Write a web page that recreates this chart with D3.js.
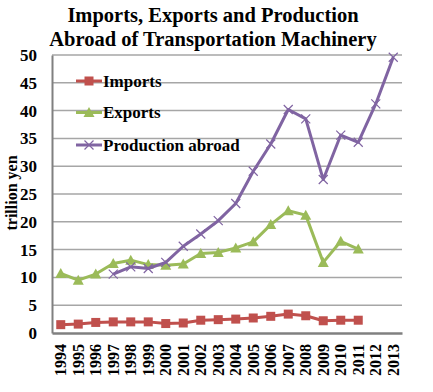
<!DOCTYPE html>
<html><head><meta charset="utf-8">
<script src="https://cdn.jsdelivr.net/npm/d3@7"></script>
<style>body{margin:0;background:#fff} text{font-family:"Liberation Serif","Times New Roman",serif;font-weight:bold;fill:#000}</style>
</head><body>
<svg id="c" width="433" height="392"></svg>
<script>
const years = ["1994","1995","1996","1997","1998","1999","2000","2001","2002","2003","2004","2005","2006","2007","2008","2009","2010","2011","2012","2013"];
const imports = [1.5,1.6,1.9,2.0,2.0,2.0,1.7,1.8,2.3,2.4,2.5,2.7,3.0,3.4,3.1,2.2,2.3,2.3,null,null];
const exportsV = [10.7,9.5,10.6,12.5,13.1,12.3,12.2,12.4,14.3,14.5,15.3,16.4,19.5,22.0,21.2,12.7,16.5,15.1,null,null];
const production = [null,null,null,10.6,11.9,11.6,12.7,15.6,17.8,20.2,23.3,29.1,34.0,40.2,38.5,27.6,35.6,34.3,41.2,49.6];
const yTicks = [0,5,10,15,20,25,30,35,40,45,50];
const seriesNames = ["Imports","Exports","Production abroad"];
const colors = ["#C0504D","#9BBB59","#8064A2"];

const svg = d3.select("#c");
const FF = "Liberation Serif";
const L=52,R=402,T=55,B=333;
const x = d3.scaleBand().domain(years).range([L,R]);
const y = d3.scaleLinear().domain([0,50]).range([B,T]);

// grid
svg.append("g").selectAll("line").data(yTicks.filter(d=>d>0)).join("line")
  .attr("x1",L).attr("x2",R).attr("y1",d=>y(d)).attr("y2",d=>y(d))
  .attr("stroke","#A6A6A6").attr("stroke-width",1.5);

// axes
const ya = svg.append("g").attr("transform",`translate(${L},0)`)
  .call(d3.axisLeft(y).tickValues(yTicks).tickSize(0).tickPadding(15));
ya.attr("font-family",null);
ya.select(".domain").attr("stroke","#808080").attr("stroke-width",2);
ya.selectAll("text").style("font-family",FF).style("font-weight","bold").style("font-size","17px").attr("fill","#000");

const xa = svg.append("g").attr("transform",`translate(0,${B})`)
  .call(d3.axisBottom(x).tickSize(0).tickPadding(0));
xa.attr("font-family",null);
xa.select(".domain").attr("stroke","#808080").attr("stroke-width",2.5);
xa.selectAll("text").style("font-family",FF).style("font-weight","bold").style("font-size","16px").attr("fill","#000")
  .attr("transform","rotate(-90)").attr("text-anchor","end").attr("dy","0.35em").attr("y",0).attr("x",-11);

// title
const title = ["Imports, Exports and Production","Abroad of Transportation Machinery"];
title.forEach((t,i)=>{
  svg.append("text").attr("x",213).attr("y",22+i*24).attr("text-anchor","middle")
    .style("font-family",FF).style("font-size","20.5px").text(t);
});

// y title
svg.append("text").attr("transform","translate(17,193) rotate(-90)").attr("text-anchor","middle")
  .style("font-family",FF).style("font-size","16px").text("trillion yen");

const cx = d => x(d)+x.bandwidth()/2;
const data = [imports, exportsV, production];

function marker(g, i, px, py){
  if(i===0){
    g.append("rect").attr("x",px-4.5).attr("y",py-4.5).attr("width",9).attr("height",9).attr("fill",colors[0]);
  } else if(i===1){
    g.append("path").attr("d",`M${px},${py-5.5}L${px+5.5},${py+4.5}L${px-5.5},${py+4.5}Z`).attr("fill",colors[1]);
  } else {
    g.append("path").attr("d",`M${px-4.5},${py-4.5}L${px+4.5},${py+4.5}M${px-4.5},${py+4.5}L${px+4.5},${py-4.5}`)
      .attr("stroke",colors[2]).attr("stroke-width",1.2).attr("fill","none");
  }
}

data.forEach((vals,i)=>{
  const pts = years.map((yr,j)=>({yr,v:vals[j]})).filter(d=>d.v!=null);
  const line = d3.line().x(d=>cx(d.yr)).y(d=>y(d.v));
  svg.append("path").datum(pts).attr("d",line).attr("fill","none")
    .attr("stroke",colors[i]).attr("stroke-width",3).attr("stroke-linejoin","round");
  const g = svg.append("g");
  pts.forEach(d=>marker(g,i,cx(d.yr),y(d.v)));
});

// legend
const legY = [81,112.5,145];
seriesNames.forEach((n,i)=>{
  const g = svg.append("g");
  g.append("line").attr("x1",76).attr("x2",102).attr("y1",legY[i]).attr("y2",legY[i])
    .attr("stroke",colors[i]).attr("stroke-width",3);
  marker(g,i,89,legY[i]);
  g.append("text").attr("x",103).attr("y",legY[i]).attr("dy","0.35em")
    .style("font-family",FF).style("font-size","17px").text(n);
});
</script>
</body></html>
